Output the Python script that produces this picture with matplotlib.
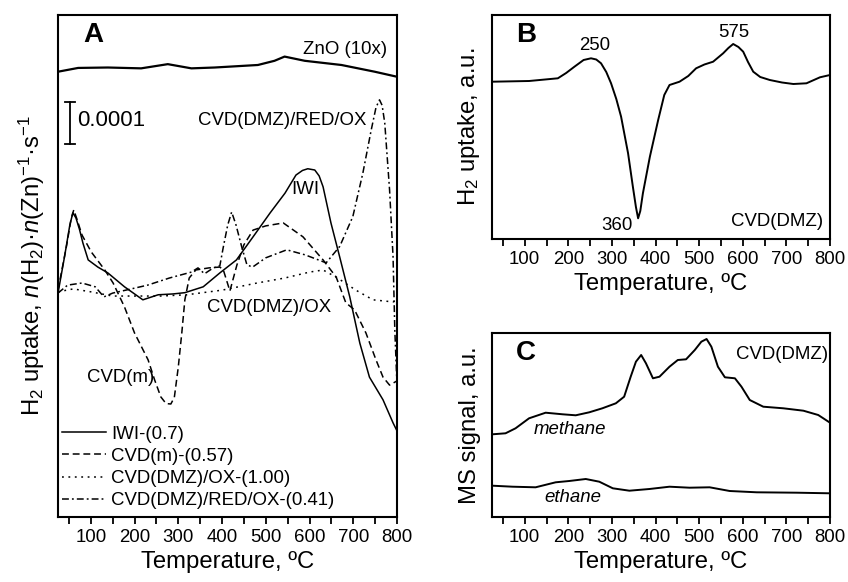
import matplotlib
matplotlib.use("Agg")
import matplotlib.pyplot as plt
from matplotlib.ticker import NullLocator

plt.rcParams['font.family'] = ['Liberation Sans', 'DejaVu Sans']
plt.rcParams['mathtext.fontset'] = 'custom'
plt.rcParams['mathtext.rm'] = 'Liberation Sans'
plt.rcParams['mathtext.it'] = 'Liberation Sans:italic'
plt.rcParams['mathtext.bf'] = 'Liberation Sans:bold'

# ---------------- Panel A data (y in units of 0.0001) ----------------
znO_T = [25, 71, 139, 215, 276, 330, 383, 482, 520, 543, 589, 673, 749, 800]
znO_v = [10.60, 10.69, 10.70, 10.68, 10.78, 10.68, 10.70, 10.76, 10.86, 10.96, 10.86, 10.76, 10.60, 10.48]

iwi_T = [25, 40, 52, 59, 66, 74, 82, 94, 116, 139, 177, 219, 254, 288, 315, 357, 395, 433, 471,
         510, 544, 569, 584, 596, 612, 622, 631, 649, 669, 692, 715, 737, 768, 791, 800]
iwi_v = [5.33, 6.2, 6.95, 7.24, 7.12, 6.85, 6.52, 6.12, 5.95, 5.81, 5.48, 5.17, 5.29, 5.31, 5.34, 5.48,
         5.81, 6.12, 6.67, 7.24, 7.71, 8.14, 8.25, 8.29, 8.26, 8.12, 7.86, 7.0, 6.19, 5.24, 4.14,
         3.33, 2.79, 2.24, 2.05]

cvdm_T = [25, 45, 55, 61, 68, 80, 101, 132, 151, 177, 200, 231, 246, 260, 272, 283, 291, 300, 308, 315,
          325, 340, 370, 395, 403, 418, 434, 450, 471, 500, 540, 585, 631, 661, 683, 703, 729, 752,
          768, 783, 795, 800]
cvdm_v = [5.40, 6.48, 7.1, 7.31, 7.1, 6.71, 6.31, 5.88, 5.57, 5.0, 4.38, 3.74, 3.26, 2.86, 2.70, 2.69,
          2.85, 3.57, 4.38, 5.17, 5.69, 5.88, 5.93, 5.95, 5.88, 5.38, 6.0, 6.48, 6.83, 6.93, 7.0,
          6.67, 6.12, 5.71, 5.10, 4.93, 4.38, 3.74, 3.33, 3.14, 3.21, 3.24]

ox_T = [25, 60, 100, 150, 215, 260, 319, 400, 480, 544, 600, 631, 661, 706, 745, 791, 800]
ox_v = [5.36, 5.43, 5.36, 5.26, 5.26, 5.26, 5.29, 5.40, 5.57, 5.69, 5.83, 5.88, 5.71, 5.40, 5.17, 5.12, 5.17]

redox_T = [25, 47, 80, 110, 130, 150, 180, 230, 280, 330, 345, 360, 380, 395, 403, 413, 422, 432,
           445, 457, 470, 500, 548, 590, 638, 669, 699, 722, 741, 752, 760, 766, 772, 783, 791, 795, 800]
redox_v = [5.33, 5.52, 5.57, 5.48, 5.24, 5.33, 5.40, 5.52, 5.69, 5.83, 5.93, 5.79, 5.93, 5.98, 6.43,
           6.95, 7.26, 6.95, 6.43, 6.0, 5.95, 6.17, 6.36, 6.24, 6.05, 6.44, 7.15, 8.19, 9.21, 9.75,
           9.93, 9.8, 9.38, 7.79, 6.19, 4.45, 3.14]

legend_labels = ['IWI-(0.7)', 'CVD(m)-(0.57)', 'CVD(DMZ)/OX-(1.00)', 'CVD(DMZ)/RED/OX-(0.41)']

# ---------------- Panel B data ----------------
b_T = [26, 110, 176, 195, 214, 235, 252, 264, 275, 287, 298, 310, 321, 337, 348, 355, 360, 365, 371,
       387, 406, 420, 432, 455, 475, 493, 512, 532, 555, 567, 578, 590, 601, 612, 624, 640, 662, 690,
       716, 746, 777, 800]
b_v = [157.3, 158, 160.7, 166, 172.3, 179, 180.7, 179.5, 175.7, 167, 155.7, 140, 122.3, 85.7, 52.3,
       32, 20.7, 28, 45.7, 82.3, 119, 144, 154, 157.3, 163, 170.7, 174.5, 177.3, 185.7, 191, 195, 192,
       187.3, 177, 167.3, 162, 159, 156.5, 155, 155.7, 161.7, 164]

# ---------------- Panel C data ----------------
meth_T = [26, 56, 79, 110, 148, 187, 217, 248, 278, 309, 328, 343, 355, 367, 378, 394, 409, 432,
          451, 470, 490, 505, 517, 528, 543, 559, 582, 597, 616, 647, 693, 739, 773, 800]
meth_v = [82.7, 83.7, 88.7, 98.7, 104.3, 102.7, 101.7, 104.7, 108.7, 113.7, 120.3, 140.3, 155.3,
          162, 153.7, 138.7, 140.3, 150.3, 157, 157.7, 167, 175.3, 178, 170.3, 150.3, 139.7, 138.7,
          130.3, 117, 110.3, 108.7, 106.3, 102, 94.3]
eth_T = [26, 72, 125, 171, 202, 240, 271, 302, 340, 386, 432, 478, 524, 570, 632, 724, 800]
eth_v = [31.3, 30.3, 29.7, 34.7, 36, 38, 35.3, 28.7, 26.3, 28, 30.3, 29.3, 29.7, 26, 24.7, 24.3, 23.7]

xticks = [100, 200, 300, 400, 500, 600, 700, 800]
xminor = [50, 150, 250, 350, 450, 550, 650, 750]

fig = plt.figure(figsize=(8.48, 5.82), dpi=100)
axA = fig.add_axes([58/848, 65/582, 339/848, 502/582])
axB = fig.add_axes([492/848, 343/582, 338/848, 224/582])
axC = fig.add_axes([492/848, 65/582, 338/848, 184/582])

TS = 13.4
LS = 17.2

def style(ax, ylim):
    ax.set_xlim(25, 800)
    ax.set_ylim(*ylim)
    ax.set_xticks(xticks)
    ax.set_xticks(xminor, minor=True)
    ax.yaxis.set_major_locator(NullLocator())
    for s in ax.spines.values():
        s.set_linewidth(1.5)
    ax.tick_params(axis='x', which='both', direction='out', length=5, width=1.3,
                   labelsize=TS, pad=4, top=False)
    ax.set_xlabel('Temperature, ºC', fontsize=LS, labelpad=3)

# Panel A
lwA = 1.1
axA.plot(znO_T, znO_v, color='black', lw=1.6)
axA.plot(iwi_T, iwi_v, color='black', lw=lwA, label=legend_labels[0])
axA.plot(cvdm_T, cvdm_v, color='black', lw=lwA, dashes=(4.5, 2.5), label=legend_labels[1])
axA.plot(ox_T, ox_v, color='black', lw=lwA, dashes=(1.2, 3.0), label=legend_labels[2])
axA.plot(redox_T, redox_v, color='black', lw=lwA, dashes=(4.5, 2.0, 1.2, 2.0), label=legend_labels[3])
style(axA, (0, 11.95))
axA.set_ylabel(r'H$_2$ uptake, $n$(H$_2$)·$n$(Zn)$^{-1}$·s$^{-1}$', fontsize=LS)
axA.yaxis.set_label_coords(-0.077, 0.5)
axA.yaxis.label.set_va('center')
axA.text(82, 11.48, 'A', fontsize=20, fontweight='bold', va='center', ha='left')
axA.text(777, 11.12, 'ZnO (10x)', fontsize=TS, va='center', ha='right')
# scale bar (0.0001 = 1 unit)
bar_x, bar_y0 = 52, 8.88
axA.plot([bar_x, bar_x], [bar_y0, bar_y0 + 1], color='black', lw=1.3)
axA.plot([bar_x - 11, bar_x + 11], [bar_y0, bar_y0], color='black', lw=1.3)
axA.plot([bar_x - 11, bar_x + 11], [bar_y0 + 1, bar_y0 + 1], color='black', lw=1.3)
axA.text(bar_x + 17, bar_y0 + 0.55, '0.0001', fontsize=16, va='center', ha='left')
axA.text(731, 9.43, 'CVD(DMZ)/RED/OX', fontsize=TS, va='center', ha='right')
axA.text(590, 7.79, 'IWI', fontsize=TS, va='center', ha='center')
axA.text(366, 4.98, 'CVD(DMZ)/OX', fontsize=TS, va='center', ha='left')
axA.text(91, 3.33, 'CVD(m)', fontsize=TS, va='center', ha='left')
leg = axA.legend(loc='lower left', bbox_to_anchor=(0.0, 0.008), frameon=False, fontsize=TS,
                 handlelength=2.4, handletextpad=0.25, labelspacing=0.28, borderpad=0.2,
                 borderaxespad=0.0)

# Panel B
axB.plot(b_T, b_v, color='black', lw=1.4)
style(axB, (0, 224))
axB.set_ylabel(r'H$_2$ uptake, a.u.', fontsize=LS)
axB.yaxis.set_label_coords(-0.068, 0.5)
axB.yaxis.label.set_va('center')
axB.text(80, 204, 'B', fontsize=20, fontweight='bold', va='center', ha='left')
axB.text(260, 193.5, '250', fontsize=TS, va='center', ha='center')
axB.text(580, 206.5, '575', fontsize=TS, va='center', ha='center')
axB.text(311, 14, '360', fontsize=TS, va='center', ha='center')
axB.text(784, 17.5, 'CVD(DMZ)', fontsize=TS, va='center', ha='right')

# Panel C
axC.plot(meth_T, meth_v, color='black', lw=1.4)
axC.plot(eth_T, eth_v, color='black', lw=1.4)
style(axC, (0, 184))
axC.set_ylabel('MS signal, a.u.', fontsize=LS)
axC.yaxis.set_label_coords(-0.065, 0.5)
axC.yaxis.label.set_va('center')
axC.text(80, 164.5, 'C', fontsize=20, fontweight='bold', va='center', ha='left')
axC.text(795, 162.5, 'CVD(DMZ)', fontsize=TS, va='center', ha='right')
axC.text(121, 87, 'methane', fontsize=TS, style='italic', va='center', ha='left')
axC.text(144, 20, 'ethane', fontsize=TS, style='italic', va='center', ha='left')

fig.savefig('out.png', dpi=100)
